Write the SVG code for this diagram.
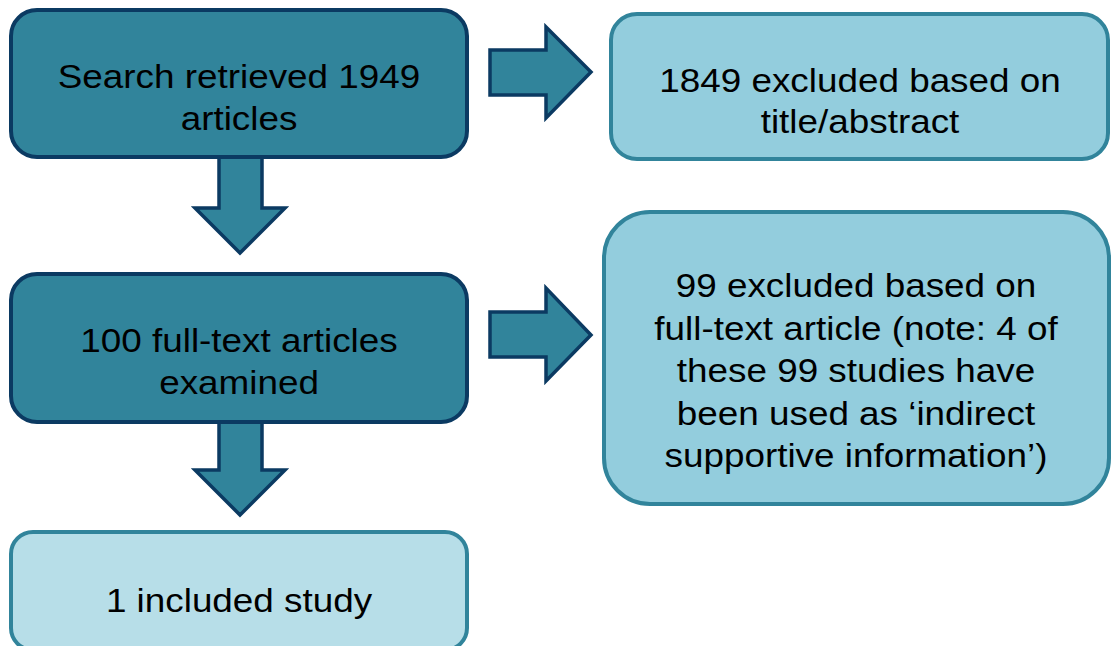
<svg xmlns="http://www.w3.org/2000/svg" width="1112" height="646" viewBox="0 0 1112 646">
<style>
.dark{fill:#31849B;stroke:#0B3A62;stroke-width:4}
.light{fill:#93CDDD;stroke:#31849B;stroke-width:4}
.pale{fill:#B7DEE8;stroke:#31849B;stroke-width:4}
.arrow{fill:#31849B;stroke:#0B3A62;stroke-width:3.5;stroke-linejoin:miter}
text{font-family:"Liberation Sans",Arial,sans-serif;font-size:33.5px;fill:#000;text-anchor:middle}
</style>
<rect width="1112" height="646" fill="#fff"/>
<g id="connectors">
<polygon class="arrow" points="490,50 546,50 546,27 591,72 546,118 546,95 490,95"/>
<polygon class="arrow" points="490,312 546,312 546,288 591,335 546,381 546,357 490,357"/>
<polygon class="arrow" points="219,154 262,154 262,208 285,208 240,253 195,208 219,208"/>
<polygon class="arrow" points="219,416 262,416 262,470 285,470 240,515 195,470 219,470"/>
</g>
<g id="search">
<rect class="dark" x="11" y="10" width="456" height="147" rx="26"/>
<g transform="translate(239,0) scale(1.1,1)"><text x="0" y="88">Search retrieved 1949</text><text x="0" y="130">articles</text></g>
</g>
<g id="excluded1">
<rect class="light" x="611" y="14" width="497" height="145" rx="26"/>
<g transform="translate(860,0) scale(1.1,1)"><text x="0" y="92">1849 excluded based on</text><text x="0" y="133">title/abstract</text></g>
</g>
<g id="fulltext">
<rect class="dark" x="11" y="274" width="456" height="148" rx="26"/>
<g transform="translate(239,0) scale(1.1,1)"><text x="0" y="352">100 full-text articles</text><text x="0" y="394">examined</text></g>
</g>
<g id="excluded2">
<rect class="light" x="604" y="212" width="505" height="292" rx="46"/>
<g transform="translate(856,0) scale(1.1,1)"><text x="0" y="297">99 excluded based on</text><text x="0" y="340">full-text article (note: 4 of</text><text x="0" y="382">these 99 studies have</text><text x="0" y="425">been used as ‘indirect</text><text x="0" y="467">supportive information’)</text></g>
</g>
<g id="included">
<rect class="pale" x="11" y="532" width="456" height="118" rx="22"/>
<g transform="translate(239,0) scale(1.1,1)"><text x="0" y="612">1 included study</text></g>
</g>
</svg>
